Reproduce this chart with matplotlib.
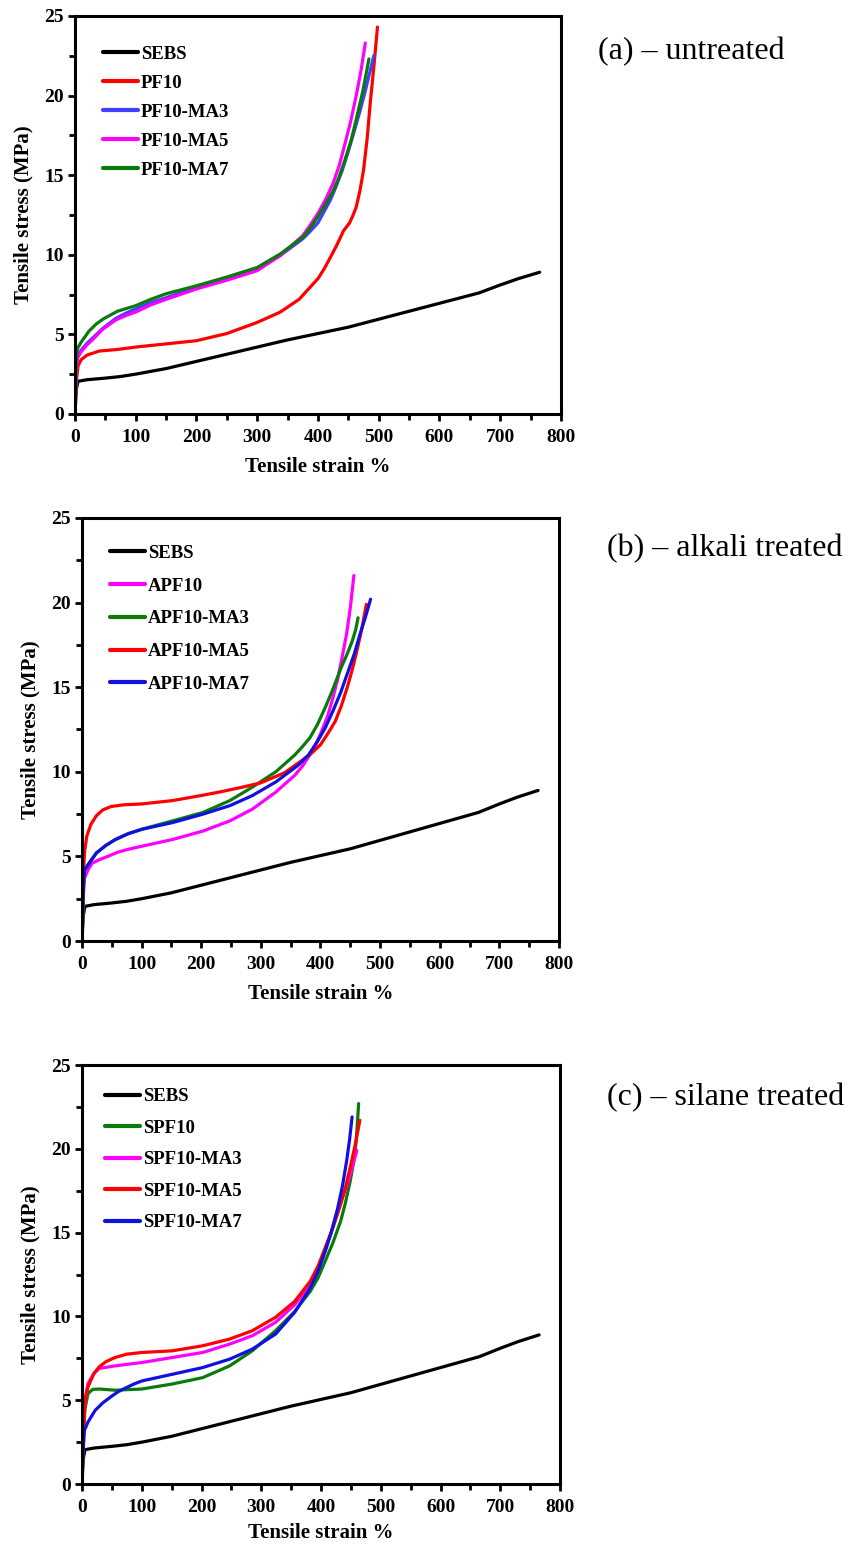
import matplotlib
matplotlib.use("Agg")
import matplotlib.pyplot as plt
from matplotlib.ticker import MultipleLocator

plt.rcParams['font.family'] = ['Liberation Serif', 'DejaVu Serif']

# SEBS reference curve (same in every panel)
sebs_x = [0, 2, 5, 20, 50, 75, 100, 150, 200, 250, 300, 350, 400, 450, 500, 550, 600, 630, 665, 700, 730, 765]
sebs_y = [0, 1.5, 2.05, 2.15, 2.25, 2.35, 2.5, 2.85, 3.3, 3.75, 4.2, 4.65, 5.05, 5.45, 5.95, 6.45, 6.95, 7.25, 7.6, 8.1, 8.5, 8.9]

# (a) untreated
pf10_x = [0, 2, 5, 10, 20, 40, 70, 100, 150, 200, 250, 300, 338, 369, 400, 410, 420, 431, 442, 452, 458, 463,
          469, 475, 481, 486, 492, 498]
pf10_y = [0, 2.0, 3.0, 3.4, 3.7, 3.95, 4.05, 4.2, 4.4, 4.6, 5.05, 5.75, 6.4, 7.2, 8.5, 9.1, 9.8, 10.6, 11.5, 12.0, 12.5, 13.0,
          14.0, 15.3, 17.3, 19.5, 21.8, 24.3]
pf10ma3_x = [0, 2, 4, 10, 20, 30, 45, 67, 85, 100, 125, 150, 200, 250, 300, 338, 375, 388, 400, 410, 420, 430,
             440, 450, 460, 469, 478, 485, 492]
pf10ma3_y = [0, 2.8, 3.6, 4.0, 4.45, 4.8, 5.35, 6.0, 6.35, 6.6, 7.0, 7.3, 7.95, 8.5, 9.1, 9.95, 11.0, 11.5, 12.0, 12.7, 13.4, 14.3,
             15.3, 16.5, 17.8, 19.0, 20.3, 21.4, 22.5]
pf10ma5_x = [0, 2, 4, 10, 20, 30, 45, 67, 85, 100, 125, 150, 200, 250, 300, 338, 375, 388, 400, 413, 425, 435,
             444, 454, 463, 471, 478]
pf10ma5_y = [0, 2.6, 3.5, 3.9, 4.35, 4.7, 5.3, 5.9, 6.2, 6.4, 6.85, 7.2, 7.85, 8.4, 9.0, 9.95, 11.2, 11.9, 12.6, 13.5, 14.5, 15.6,
             16.9, 18.4, 20.0, 21.6, 23.3]
pf10ma7_x = [0, 2, 4, 10, 23, 35, 48, 70, 100, 125, 150, 200, 250, 300, 338, 375, 388, 400, 413, 425, 435,
             444, 454, 463, 474, 484]
pf10ma7_y = [0, 3.3, 4.1, 4.5, 5.2, 5.65, 6.0, 6.45, 6.8, 7.2, 7.55, 8.05, 8.6, 9.2, 10.05, 11.1, 11.7, 12.4, 13.2, 14.0, 14.9,
             15.9, 17.1, 18.5, 20.3, 22.3]

# (b) alkali treated
apf10_x = [0, 2, 4, 10, 17, 30, 43, 60, 75, 100, 152, 203, 248, 286, 325, 357, 370, 382, 392, 402, 412, 421,
           429, 437, 444, 450, 456]
apf10_y = [0, 2.5, 3.7, 4.2, 4.6, 4.82, 5.0, 5.25, 5.4, 5.6, 6.0, 6.5, 7.1, 7.8, 8.8, 9.8, 10.35, 11.0, 11.6, 12.4, 13.3, 14.4,
           15.5, 16.9, 18.2, 19.7, 21.6]
apf10ma3_x = [0, 2, 4, 10, 24, 40, 56, 78, 100, 152, 203, 248, 286, 325, 357, 370, 382, 395, 408, 421, 434,
              444, 453, 459, 463]
apf10ma3_y = [0, 3.0, 4.2, 4.5, 5.2, 5.65, 6.0, 6.35, 6.6, 7.1, 7.6, 8.3, 9.1, 10.0, 11.0, 11.5, 12.0, 12.8, 13.8, 14.9, 16.1,
              16.9, 17.7, 18.4, 19.1]
apf10ma5_x = [0, 2, 4, 8, 15, 24, 35, 49, 70, 100, 152, 200, 230, 270, 300, 340, 370, 385, 400, 413, 425, 435,
              445, 453, 460, 469, 477]
apf10ma5_y = [0, 3.5, 5.2, 6.2, 6.9, 7.4, 7.75, 7.95, 8.05, 8.1, 8.3, 8.6, 8.8, 9.1, 9.35, 9.95, 10.7, 11.1, 11.6, 12.3, 13.0, 13.9,
              15.0, 16.0, 17.0, 18.4, 19.9]
apf10ma7_x = [0, 2, 4, 10, 24, 40, 56, 78, 100, 152, 203, 248, 286, 325, 363, 380, 395, 408, 421, 434, 447,
              457, 466, 475, 484]
apf10ma7_y = [0, 3.0, 4.2, 4.5, 5.2, 5.65, 6.0, 6.35, 6.6, 7.0, 7.5, 8.0, 8.6, 9.4, 10.4, 11.0, 11.8, 12.6, 13.6, 14.7, 16.0,
              17.0, 18.1, 19.1, 20.2]

# (c) silane treated
spf10_x = [0, 2, 5, 10, 18, 29, 55, 100, 151, 202, 247, 285, 324, 356, 382, 395, 407, 420, 433, 441, 449,
           455, 459, 463]
spf10_y = [0, 2.5, 4.5, 5.4, 5.65, 5.67, 5.6, 5.67, 5.97, 6.35, 7.05, 7.95, 9.15, 10.3, 11.5, 12.3, 13.3, 14.4, 15.7, 16.8, 18.1,
           19.3, 20.5, 22.7]
spf10ma3_x = [0, 2, 5, 10, 20, 29, 55, 100, 151, 202, 247, 285, 324, 356, 382, 395, 407, 417, 427, 437, 446,
              453, 460]
spf10ma3_y = [0, 3.0, 5.0, 6.0, 6.6, 6.9, 7.05, 7.25, 7.55, 7.85, 8.35, 8.85, 9.65, 10.7, 11.9, 12.8, 13.9, 15.0, 16.3, 17.2, 18.1,
              19.0, 19.9]
spf10ma5_x = [0, 2, 5, 10, 20, 29, 40, 55, 75, 100, 151, 202, 247, 285, 324, 356, 382, 395, 407, 420, 433, 441,
              449, 457, 465]
spf10ma5_y = [0, 3.0, 5.0, 5.8, 6.6, 7.0, 7.3, 7.55, 7.75, 7.85, 7.95, 8.25, 8.65, 9.15, 9.95, 10.9, 12.1, 13.0, 14.1, 15.3, 16.7, 17.7,
              18.9, 20.2, 21.7]
spf10ma7_x = [0, 1, 4, 10, 22, 35, 48, 60, 74, 87, 100, 151, 202, 247, 285, 324, 356, 382, 395, 407, 417, 427,
              436, 443, 448, 452]
spf10ma7_y = [0, 1.5, 3.2, 3.7, 4.4, 4.85, 5.2, 5.5, 5.75, 5.97, 6.15, 6.55, 6.95, 7.45, 8.05, 8.95, 10.25, 11.7, 12.7, 13.9, 15.0, 16.3,
              17.8, 19.3, 20.6, 21.9]

RED = '#ff0000'
MAG = '#ff00ff'
GRN = '#0a7a0a'
BLU = '#1010e0'
LBLU = '#4040ff'

panels = [
    dict(rect=[0.0883, 0.7326, 0.5724, 0.2571], title='(a) – untreated', tx=598, ty=52,
         series=[('SEBS', sebs_x, sebs_y, 'black'),
                 ('PF10', pf10_x, pf10_y, RED),
                 ('PF10-MA3', pf10ma3_x, pf10ma3_y, LBLU),
                 ('PF10-MA5', pf10ma5_x, pf10ma5_y, MAG),
                 ('PF10-MA7', pf10ma7_x, pf10ma7_y, GRN)],
         leg_anchor=(0.042, 0.9435), spacing=0.63, xpad=8),
    dict(rect=[0.0966, 0.3921, 0.5618, 0.2733], title='(b) – alkali treated', tx=607, ty=549,
         series=[('SEBS', sebs_x, sebs_y, 'black'),
                 ('APF10', apf10_x, apf10_y, MAG),
                 ('APF10-MA3', apf10ma3_x, apf10ma3_y, GRN),
                 ('APF10-MA5', apf10ma5_x, apf10ma5_y, RED),
                 ('APF10-MA7', apf10ma7_x, apf10ma7_y, BLU)],
         leg_anchor=(0.043, 0.954), spacing=0.83, xpad=8),
    dict(rect=[0.0966, 0.0413, 0.5630, 0.2707], title='(c) – silane treated', tx=607, ty=1098,
         series=[('SEBS', sebs_x, sebs_y, 'black'),
                 ('SPF10', spf10_x, spf10_y, GRN),
                 ('SPF10-MA3', spf10ma3_x, spf10ma3_y, MAG),
                 ('SPF10-MA5', spf10ma5_x, spf10ma5_y, RED),
                 ('SPF10-MA7', spf10ma7_x, spf10ma7_y, BLU)],
         leg_anchor=(0.032, 0.963), spacing=0.77, xpad=4.5),
]

fig = plt.figure(figsize=(8.49, 15.48), dpi=100)

for p in panels:
    ax = fig.add_axes(p['rect'])
    for label, xs, ys, col in p['series']:
        ax.plot(xs, ys, color=col, linewidth=2.3, label=label,
                solid_capstyle='round', solid_joinstyle='round')
    ax.set_xlim(0, 800)
    ax.set_ylim(0, 25)
    ax.xaxis.set_major_locator(MultipleLocator(100))
    ax.xaxis.set_minor_locator(MultipleLocator(50))
    ax.yaxis.set_major_locator(MultipleLocator(5))
    ax.yaxis.set_minor_locator(MultipleLocator(2.5))
    ax.tick_params(which='major', direction='out', length=5, width=2, labelsize=14, pad=3)
    ax.tick_params(axis='x', which='major', pad=6)
    ax.tick_params(which='minor', direction='out', length=4, width=2)
    for lab in ax.get_xticklabels() + ax.get_yticklabels():
        lab.set_fontweight('bold')
    for s in ax.spines.values():
        s.set_linewidth(2.2)
    ax.set_xlabel('Tensile strain %', fontsize=15, fontweight='bold', labelpad=p['xpad'])
    ax.set_ylabel('Tensile stress (MPa)', fontsize=15, fontweight='bold', labelpad=8)
    leg = ax.legend(loc='upper left', bbox_to_anchor=p['leg_anchor'], frameon=False,
                    prop={'weight': 'bold', 'size': 13.5}, handlelength=1.87,
                    handletextpad=0.16, labelspacing=p['spacing'], borderaxespad=0)
    for h in leg.get_lines():
        h.set_linewidth(3)
    fig.text(p['tx'] / 849, 1 - p['ty'] / 1548, p['title'], fontsize=23,
             ha='left', va='center')

plt.savefig('out.png', dpi=100)
